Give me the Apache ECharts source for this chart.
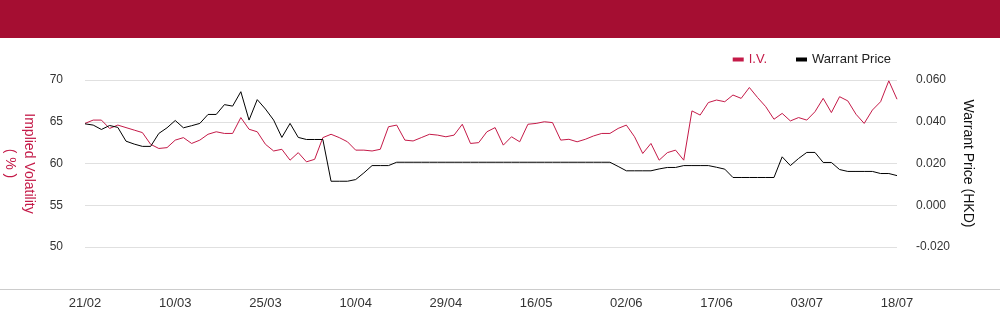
<!DOCTYPE html>
<html>
<head>
<meta charset="utf-8">
<script src="https://cdn.jsdelivr.net/npm/echarts@6/dist/echarts.min.js"></script>
<style>
html,body{margin:0;padding:0;background:#fff;}
#chart{width:1000px;height:324px;}
</style>
</head>
<body>
<div id="chart"></div>
<script>
const dates = [
'21/02','24/02','25/02','26/02','27/02','28/02',
'03/03','04/03','05/03','06/03','07/03','10/03','11/03','12/03','13/03','14/03','17/03','18/03','19/03','20/03','21/03','24/03','25/03','26/03','27/03','28/03','31/03',
'01/04','02/04','03/04','07/04','08/04','09/04','10/04','11/04','14/04','15/04','16/04','17/04','22/04','23/04','24/04','25/04','28/04','29/04','30/04',
'02/05','06/05','07/05','08/05','09/05','12/05','13/05','14/05','15/05','16/05','19/05','20/05','21/05','22/05','23/05','26/05','27/05','28/05','29/05','30/05',
'02/06','03/06','04/06','05/06','06/06','09/06','10/06','11/06','12/06','13/06','16/06','17/06','18/06','19/06','20/06','23/06','24/06','25/06','26/06','27/06','30/06',
'02/07','03/07','04/07','07/07','08/07','09/07','10/07','11/07','14/07','15/07','16/07','17/07','18/07'
];

const impliedVolatility = [
64.8,65.2,65.2,64.2,64.6,64.3,64.0,63.7,62.3,61.8,
61.9,62.8,63.1,62.4,62.8,63.5,63.8,63.6,63.6,65.5,
64.1,63.8,62.3,61.5,61.7,60.4,61.3,60.2,60.5,63.1,
63.5,63.1,62.6,61.6,61.6,61.5,61.7,64.4,64.6,62.8,
62.7,63.1,63.5,63.4,63.2,63.4,64.7,62.4,62.5,63.8,
64.3,62.2,63.2,62.6,64.7,64.8,65.0,64.9,62.8,62.9,
62.6,62.9,63.3,63.6,63.6,64.2,64.6,63.2,61.2,62.4,
60.4,61.3,61.6,60.4,66.3,65.8,67.3,67.6,67.4,68.2,
67.8,69.1,67.9,66.8,65.3,66.0,65.1,65.5,65.2,66.2,
67.8,66.1,68.0,67.5,65.9,64.8,66.4,67.4,69.9,67.7
];

const warrantPrice = [
0.0390,0.0384,0.0363,0.0382,0.0373,0.0307,0.0293,0.0282,0.0282,0.0344,
0.0371,0.0406,0.0371,0.0381,0.0392,0.0435,0.0435,0.0482,0.0475,0.0544,
0.0408,0.0506,0.0461,0.0408,0.0325,0.0392,0.0325,0.0315,0.0315,0.0315,
0.0115,0.0115,0.0115,0.0123,0.0155,0.0190,0.0190,0.0190,0.0206,0.0206,
0.0206,0.0206,0.0206,0.0206,0.0206,0.0206,0.0206,0.0206,0.0206,0.0206,
0.0206,0.0206,0.0206,0.0206,0.0206,0.0206,0.0206,0.0206,0.0206,0.0206,
0.0206,0.0206,0.0206,0.0206,0.0206,0.0186,0.0165,0.0165,0.0165,0.0165,
0.0174,0.0181,0.0181,0.0190,0.0190,0.0190,0.0190,0.0182,0.0173,0.0133,
0.0133,0.0133,0.0133,0.0133,0.0133,0.0232,0.0190,0.0224,0.0253,0.0253,
0.0205,0.0205,0.0171,0.0162,0.0162,0.0162,0.0162,0.0152,0.0152,0.0142
];

const leftTicks = {min:50, max:70, interval:5};
const rightTicks = {min:-0.02, max:0.06, interval:0.02};

const RED = '#c41a48';
const chart = echarts.init(document.getElementById('chart'), null, {renderer:'canvas'});
chart.setOption({
  animation:false,
  textStyle:{fontFamily:'"Liberation Sans", Arial, sans-serif'},
  graphic:[
    {type:'rect', left:0, top:0, shape:{width:1000, height:38}, style:{fill:'#A50E32'}, silent:true},
    {type:'line', shape:{x1:0, y1:289.5, x2:1000, y2:289.5}, style:{stroke:'#cccccc', lineWidth:1}, silent:true}
  ],
  legend:{
    right:104, top:48,
    itemWidth:11, itemHeight:4, itemGap:29, icon:'rect',
    textStyle:{fontSize:13, color:'#222'},
    data:[
      {name:'I.V.', textStyle:{color:RED}},
      {name:'Warrant Price'}
    ]
  },
  grid:{left:85, right:103, top:80, bottom:77, containLabel:false, outerBoundsMode:'none'},
  xAxis:{
    type:'category', data:dates, boundaryGap:false,
    axisLine:{show:false}, axisTick:{show:false},
    axisLabel:{interval:10, color:'#333', fontSize:13, margin:50},
    splitLine:{show:false}
  },
  yAxis:[
    {
      type:'value', min:leftTicks.min, max:leftTicks.max, interval:leftTicks.interval,
      position:'left',
      name:'Implied Volatility\n( % )', nameLocation:'middle', nameRotate:-90, nameGap:45,
      nameTextStyle:{color:RED, fontSize:14, lineHeight:19},
      axisLine:{show:false}, axisTick:{show:false},
      axisLabel:{color:'#333', fontSize:12, margin:22},
      splitLine:{lineStyle:{color:'#e0e0e0', width:1}}
    },
    {
      type:'value', min:rightTicks.min, max:rightTicks.max, interval:rightTicks.interval,
      position:'right',
      name:'Warrant Price (HKD)', nameLocation:'middle', nameRotate:-90, nameGap:64,
      nameTextStyle:{color:'#111', fontSize:14},
      axisLine:{show:false}, axisTick:{show:false},
      axisLabel:{color:'#333', fontSize:12, margin:19,
        formatter:function(v){return v.toFixed(3);}},
      splitLine:{show:false}
    }
  ],
  series:[
    {name:'I.V.', type:'line', yAxisIndex:0, data:impliedVolatility, showSymbol:false, symbol:'none',
      lineStyle:{color:RED, width:1}, itemStyle:{color:RED}},
    {name:'Warrant Price', type:'line', yAxisIndex:1, data:warrantPrice, showSymbol:false, symbol:'none',
      lineStyle:{color:'#000', width:1}, itemStyle:{color:'#000'}}
  ]
});
</script>
</body>
</html>
